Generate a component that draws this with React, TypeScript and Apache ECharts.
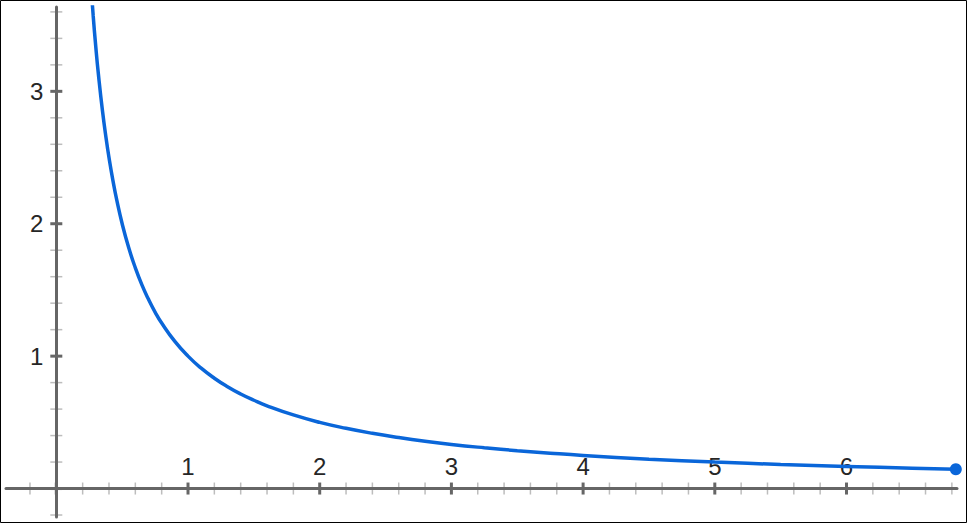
import React, { useEffect, useRef } from "react";
import * as echarts from "echarts";

// Curve y = 1/x
const curveX = [0.265, 0.28, 0.3, 0.32, 0.35, 0.38, 0.4, 0.43, 0.46, 0.5, 0.55, 0.6, 0.65, 0.7, 0.75, 0.8, 0.9, 1, 1.1, 1.2, 1.3, 1.4, 1.5, 1.6, 1.8, 2, 2.2, 2.4, 2.6, 2.8, 3, 3.25, 3.5, 3.75, 4, 4.5, 5, 5.5, 6, 6.5, 6.83];
const curveY = [3.774, 3.571, 3.333, 3.125, 2.857, 2.632, 2.5, 2.326, 2.174, 2.0, 1.818, 1.667, 1.538, 1.429, 1.333, 1.25, 1.111, 1.0, 0.909, 0.833, 0.769, 0.714, 0.667, 0.625, 0.556, 0.5, 0.455, 0.417, 0.385, 0.357, 0.333, 0.308, 0.286, 0.267, 0.25, 0.222, 0.2, 0.182, 0.167, 0.154, 0.146];

// Tick values
const xLabels = [1, 2, 3, 4, 5, 6];
const yLabels = [1, 2, 3];
const xMinorTicks = [-0.2, 0.2, 0.4, 0.6, 0.8, 1.2, 1.4, 1.6, 1.8, 2.2, 2.4, 2.6, 2.8, 3.2, 3.4, 3.6, 3.8, 4.2, 4.4, 4.6, 4.8, 5.2, 5.4, 5.6, 5.8, 6.2, 6.4, 6.6, 6.8];
const yMinorTicks = [-0.2, 0.2, 0.4, 0.6, 0.8, 1.2, 1.4, 1.6, 1.8, 2.2, 2.4, 2.6, 2.8, 3.2, 3.4, 3.6];
const xMajorTicks = [0, 1, 2, 3, 4, 5, 6];
const yMajorTicks = [0, 1, 2, 3];

export default function App() {
  const ref = useRef<HTMLDivElement>(null);
  useEffect(() => {
    if (!ref.current) return;
    const chart = echarts.init(ref.current, null, { renderer: "svg" });

    // [value, axis (0 = x, 1 = y), kind (0 minor tick, 1 major tick, 2 label)]
    const tickData: any[] = [];
    xMinorTicks.forEach((v) => tickData.push([v, 0, 0]));
    yMinorTicks.forEach((v) => tickData.push([v, 1, 0]));
    xMajorTicks.forEach((v) => tickData.push([v, 0, 1]));
    yMajorTicks.forEach((v) => tickData.push([v, 1, 1]));
    xLabels.forEach((v) => tickData.push([v, 0, 2]));
    yLabels.forEach((v) => tickData.push([v, 1, 2]));

    const fontFamily = "'Liberation Sans', Arial, sans-serif";
    const lastIdx = curveX.length - 1;

    chart.setOption({
      animation: false,
      backgroundColor: "#ffffff",
      textStyle: { fontFamily },
      grid: {
        left: 6,
        right: 10,
        top: 7,
        bottom: 6,
        containLabel: false,
        outerBoundsMode: "none",
      },
      xAxis: {
        type: "value",
        min: -0.382,
        max: 6.839,
        z: 3,
        axisLine: { show: true, onZero: true, lineStyle: { color: "#666666", width: 3 } },
        axisTick: { show: false },
        splitLine: { show: false },
        axisLabel: { show: false },
      },
      yAxis: {
        type: "value",
        min: -0.215,
        max: 3.637,
        z: 3,
        axisLine: { show: true, onZero: true, lineStyle: { color: "#666666", width: 3 } },
        axisTick: { show: false },
        splitLine: { show: false },
        axisLabel: { show: false },
      },
      graphic: [
        {
          type: "rect",
          z: 100,
          shape: { x: 0.5, y: 0.5, width: 966, height: 522 },
          style: { fill: "none", stroke: "#000000", lineWidth: 1 },
        },
      ],
      series: [
        {
          type: "custom",
          z: 1,
          silent: true,
          data: tickData,
          clip: false,
          renderItem: (params: any, api: any) => {
            const v = api.value(0);
            const isY = api.value(1) === 1;
            const kind = api.value(2);
            const p = isY ? api.coord([0, v]) : api.coord([v, 0]);
            if (kind === 2) {
              return {
                type: "text",
                style: isY
                  ? {
                      text: String(v),
                      x: p[0] - 13,
                      y: p[1],
                      align: "right",
                      verticalAlign: "middle",
                      fill: "#262626",
                      font: "24px " + fontFamily,
                    }
                  : {
                      text: String(v),
                      x: p[0],
                      y: p[1] - 10,
                      align: "center",
                      verticalAlign: "bottom",
                      fill: "#262626",
                      font: "24px " + fontFamily,
                    },
              };
            }
            const major = kind === 1;
            const len = 6;
            const shape = isY
              ? { x1: p[0] - len, y1: p[1], x2: p[0] + len, y2: p[1] }
              : { x1: p[0], y1: p[1] - len, x2: p[0], y2: p[1] + len };
            return {
              type: "line",
              shape,
              style: {
                stroke: major ? "#666666" : "#bdbdbd",
                lineWidth: major ? 3 : 1.5,
              },
            };
          },
        },
        {
          type: "line",
          z: 5,
          smooth: 0.5,
          clip: true,
          showSymbol: true,
          data: curveX.map((x, i) => ({
            value: [x, curveY[i]],
            symbol: i === lastIdx ? "circle" : "none",
            symbolSize: i === lastIdx ? 12 : 0,
          })),
          lineStyle: { color: "#0a66d9", width: 3.5 },
          itemStyle: { color: "#0a66d9" },
        },
      ],
    });
    return () => chart.dispose();
  }, []);

  return (
    <div
      ref={ref}
      style={{ position: "absolute", left: 0, top: 0, width: 967, height: 523 }}
    />
  );
}
